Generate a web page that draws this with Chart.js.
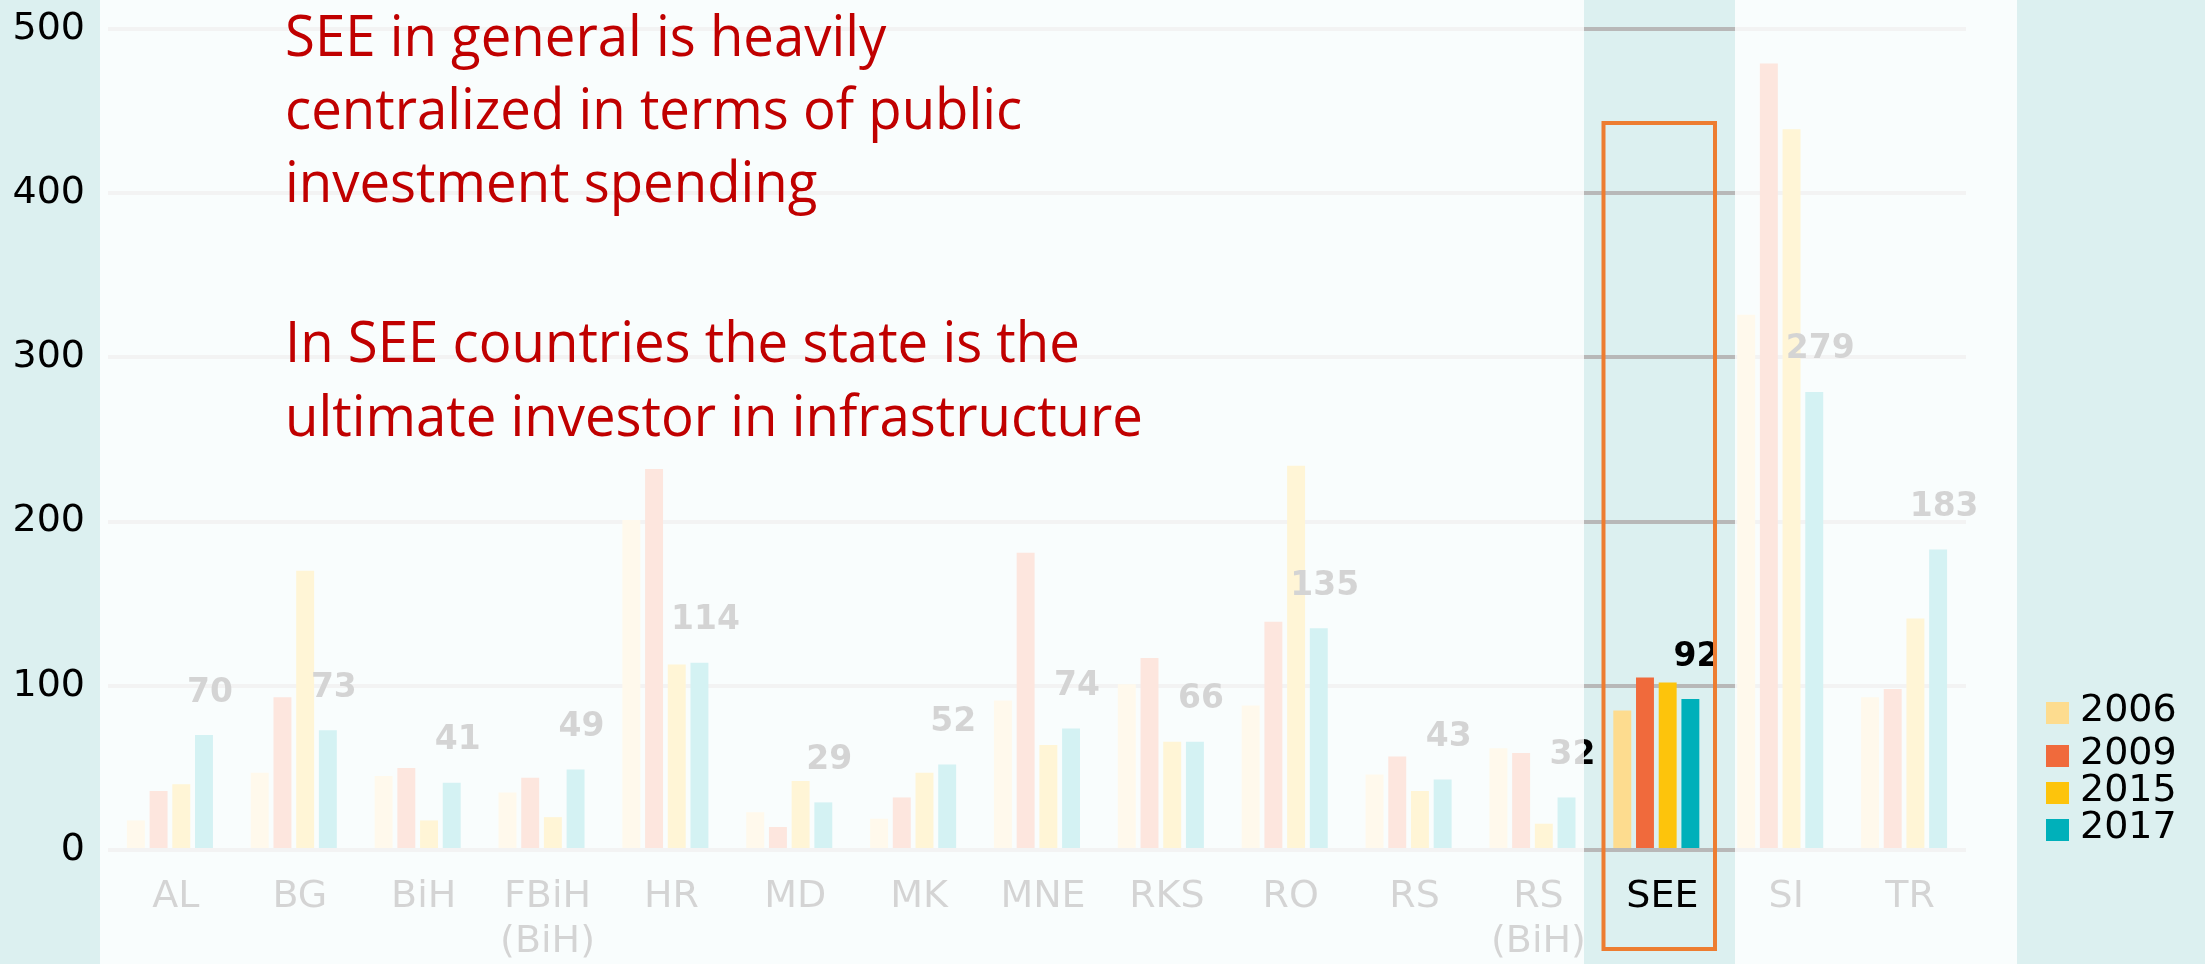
<!DOCTYPE html>
<html><head><meta charset="utf-8">
<script src="https://cdn.jsdelivr.net/npm/chart.js@4.4.1/dist/chart.umd.min.js"></script>
<style>html,body{margin:0;padding:0;background:#dcf0f0;}canvas{display:block;}</style>
</head><body>
<canvas id="c" width="2205" height="964"></canvas>
<script>
const categories = ['AL','BG','BiH',['FBiH','(BiH)'],'HR','MD','MK','MNE','RKS','RO','RS',['RS','(BiH)'],'SEE','SI','TR'];
const years = ['2006','2009','2015','2017'];
const v2006 = [18, 47, 45, 35, 201, 23, 19, 91, 101, 88, 46, 62, 85, 326, 93];
const v2009 = [36, 93, 50, 44, 232, 14, 32, 181, 117, 139, 57, 59, 105, 479, 98];
const v2015 = [40, 170, 18, 20, 113, 42, 47, 64, 66, 234, 36, 16, 102, 439, 141];
const v2017 = [70, 73, 41, 49, 114, 29, 52, 74, 66, 135, 43, 32, 92, 279, 183];
const yTicks = [0, 100, 200, 300, 400, 500];
const seriesColors = ['#FDDC8F', '#F06A3C', '#FDC40C', '#00B0BA'];
const noteLines = [
  'SEE in general is heavily',
  'centralized in terms of public',
  'investment spending',
  'In SEE countries the state is the',
  'ultimate investor in infrastructure'
];

const deco = {
  id: 'deco',
  beforeDraw(chart) {
    const ctx = chart.ctx;
    ctx.save();
    ctx.fillStyle = '#dcf0f0';
    ctx.fillRect(0, 0, chart.width, chart.height);
    ctx.restore();
  },
  afterDatasetsDraw(chart) {
    const ctx = chart.ctx;
    const meta = chart.getDatasetMeta(3);
    ctx.save();
    ctx.font = 'bold 33px "DejaVu Sans"';
    ctx.fillStyle = '#000';
    ctx.textAlign = 'center';
    ctx.textBaseline = 'middle';
    meta.data.forEach((el, i) => {
      ctx.fillText(String(v2017[i]), el.x + 6, el.y - 42);
    });
    ctx.restore();
  },
  afterDraw(chart) {
    const ctx = chart.ctx;
    const H = chart.height;
    ctx.save();
    ctx.fillStyle = 'rgba(255,255,255,0.83)';
    ctx.fillRect(100, 0, 1584 - 100, H);
    ctx.fillRect(1735, 0, 2017 - 1735, H);
    const ys = [713, 756, 793, 830];
    ctx.font = '38px "DejaVu Sans"';
    ctx.textBaseline = 'middle';
    ctx.textAlign = 'left';
    chart.data.datasets.forEach((ds, i) => {
      ctx.fillStyle = ds.backgroundColor;
      ctx.fillRect(2046, ys[i] - 11, 23, 22);
      ctx.fillStyle = '#000';
      ctx.fillText(ds.label, 2080, ys[i] - 2);
    });
    ctx.fillStyle = '#C00000';
    ctx.font = '57px "Open Sans"';
    ctx.textBaseline = 'alphabetic';
    const w = ctx.measureText(noteLines[4]).width;
    const sx = 858 / w;
    const baselines = [56, 129, 202, 362, 436];
    noteLines.forEach((t, i) => {
      ctx.save();
      ctx.translate(285, baselines[i]);
      ctx.scale(sx, 1);
      ctx.fillText(t, 0, 0);
      ctx.restore();
    });
    ctx.strokeStyle = '#ED7D31';
    ctx.lineWidth = 4;
    ctx.strokeRect(1603.5, 123, 1715 - 1603.5, 949 - 123);
    ctx.restore();
  }
};

function build() {
  new Chart(document.getElementById('c'), {
    type: 'bar',
    data: {
      labels: categories,
      datasets: years.map((y, i) => ({
        label: y,
        data: [v2006, v2009, v2015, v2017][i],
        backgroundColor: seriesColors[i],
        borderWidth: 0,
        categoryPercentage: 0.733,
        barPercentage: 0.79
      }))
    },
    options: {
      responsive: false,
      animation: false,
      devicePixelRatio: 1,
      layout: { padding: { top: 29, right: 239, bottom: 0, left: 0 } },
      plugins: { legend: { display: false }, tooltip: { enabled: false } },
      scales: {
        x: {
          grid: { display: false, drawTicks: false },
          border: { display: false },
          ticks: {
            color: '#000',
            font: { family: 'DejaVu Sans', size: 38, lineHeight: 1.2 },
            padding: 24,
            labelOffset: 6,
            maxRotation: 0,
            autoSkip: false
          },
          afterFit(s) { s.height = 114; s.paddingLeft = 0; s.paddingRight = 0; }
        },
        y: {
          min: 0, max: 500,
          afterBuildTicks(s) { s.ticks = yTicks.map(v => ({ value: v })); },
          grid: { color: '#b8b8b8', lineWidth: 4, drawTicks: false },
          border: { display: false },
          ticks: {
            color: '#000',
            font: { family: 'DejaVu Sans', size: 38 },
            padding: 23
          },
          afterFit(s) { s.width = 108; s.paddingTop = 0; s.paddingBottom = 0; }
        }
      }
    },
    plugins: [deco]
  });
}
Promise.all([
  document.fonts.load('57px "Open Sans"'),
  document.fonts.load('38px "DejaVu Sans"'),
  document.fonts.load('bold 33px "DejaVu Sans"')
]).then(build, build);
</script>
</body></html>
